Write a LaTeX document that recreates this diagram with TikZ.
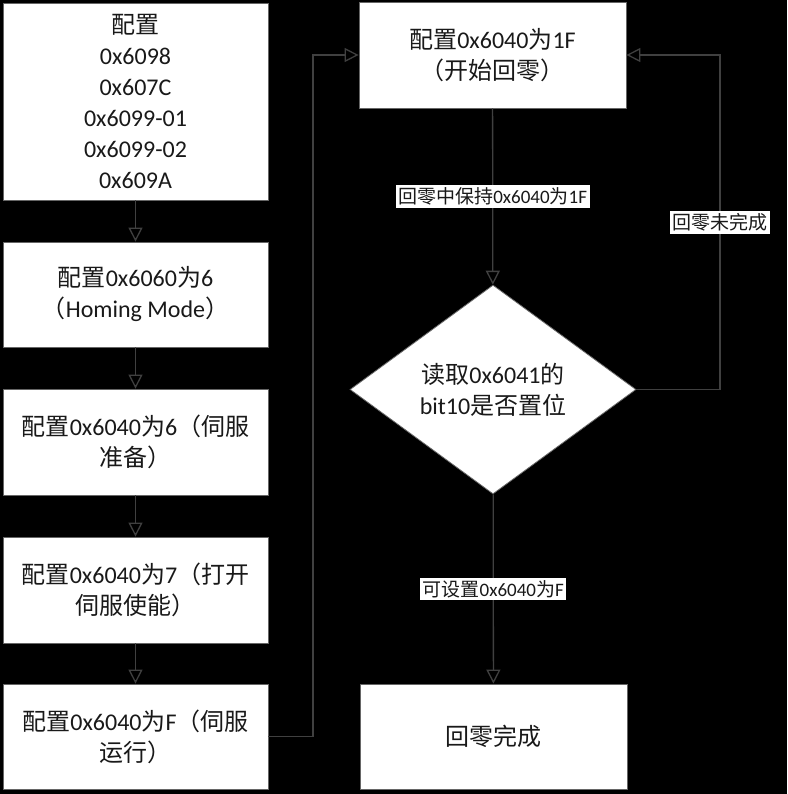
\documentclass[tikz,border=0pt]{standalone}
\usepackage{fontspec}
\setmainfont{Carlito}
\newfontfamily\cjk{Noto Sans CJK SC}
\newcommand\zh[1]{{\cjk #1}}
\usepackage{tikz}
\usetikzlibrary{arrows.meta}
\usetikzlibrary{shapes.geometric}

\begin{document}
\begin{tikzpicture}[x=1pt, y=-1pt,
    box/.style={draw=black!60, line width=0.8pt, fill=white, rectangle, minimum width=265pt, inner sep=0pt, align=center, text=black!90, font=\fontsize{24}{31}\selectfont},
    decide/.style={draw=black!60, line width=0.8pt, fill=white, diamond, minimum width=286pt, minimum height=209pt, aspect=1.37, inner sep=0pt, align=center, text=black!90, font=\fontsize{24}{31}\selectfont},
    lbl/.style={fill=white, inner sep=2.5pt, text=black!90, font=\fontsize{19}{21}\selectfont},
    flow/.style={draw=black!75, line width=1.3pt, -{Triangle[open, length=14pt, width=14pt]}}]
            \fill[black] (0,0) rectangle (787,794);
            % left column
            \draw (135.5,101.5) node[box, minimum height=197pt]   (cfg) {\zh{配置}\\0x6098\\0x607C\\0x6099-01\\0x6099-02\\0x609A};
            \draw (135.5,294.5) node[box, minimum height=105pt]   (mode) {\zh{配置}0x6060\zh{为}6\\\zh{（}Homing Mode\zh{）}};
            \draw (135.5,442) node[box, minimum height=106pt]     (ready) {\zh{配置}0x6040\zh{为}6\zh{（伺服}\\\zh{准备）}};
            \draw (135.5,590) node[box, minimum height=106pt]     (enable) {\zh{配置}0x6040\zh{为}7\zh{（打开}\\\zh{伺服使能）}};
            \draw (135.5,736.5) node[box, minimum height=105pt]   (run) {\zh{配置}0x6040\zh{为}F\zh{（伺服}\\\zh{运行）}};
            % right column
            \draw (492.5,55) node[box, minimum width=267pt, minimum height=106pt]   (start) {\zh{配置}0x6040\zh{为}1F\\\zh{（开始回零）}};
            \draw (493,389.5) node[decide]                        (check) {\zh{读取}0x6041\zh{的}\\bit10\zh{是否置位}};
            \draw (493.5,736.5) node[box, minimum width=267pt, minimum height=105pt] (done) {\zh{回零完成}};
            \draw[flow] (cfg) -- (mode);
            \draw[flow] (mode) -- (ready);
            \draw[flow] (ready) -- (enable);
            \draw[flow] (enable) -- (run);
            \draw[flow] (run.east) -- (313,736.5) |- (start.west);
            \draw[flow] (start) -- node[lbl] {\zh{回零中保持}0x6040\zh{为}1F} (check);
            \draw[flow] (check) -- node[lbl] {\zh{可设置}0x6040\zh{为}F} (done);
            \draw[flow] (check.east) -- (720,389.5) |- node[lbl, pos=0.25] {\zh{回零未完成}} (start.east);
  
            \end{tikzpicture}
\end{document}
